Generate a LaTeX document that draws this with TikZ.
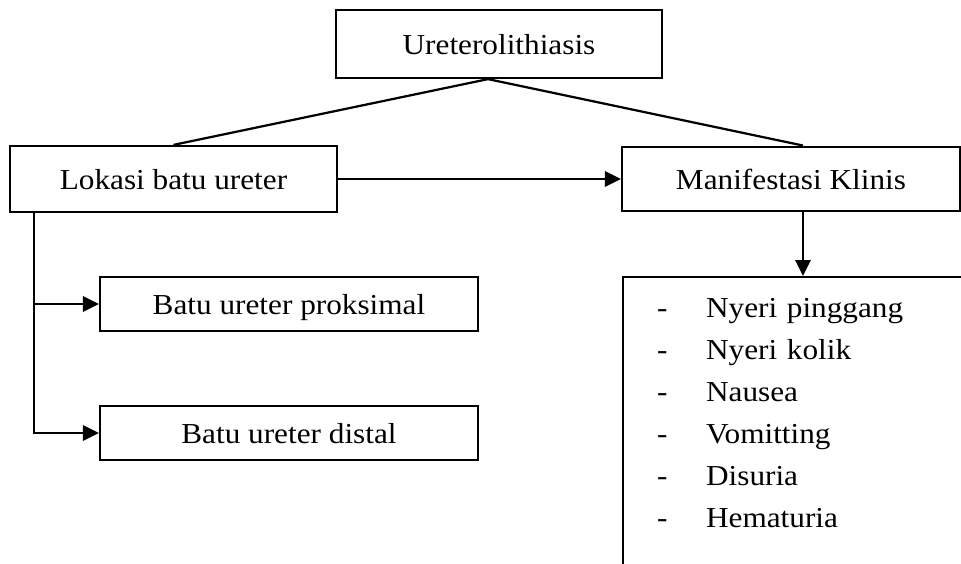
\documentclass[tikz,border=0pt]{standalone}
\usepackage{fontspec}
\setmainfont{Liberation Serif}[FakeStretch=1.08]
\usetikzlibrary{arrows.meta}
\newcommand{\gejala}[1]{\makebox[1.47cm][l]{-}#1}

\begin{document}
\begin{tikzpicture}[x=0.03cm,y=-0.03cm,line width=1.9pt,>={Triangle[length=4.8mm,width=4.6mm]},
  kotak/.style={draw,inner sep=0pt,text depth=0pt,font=\fontsize{24.7}{30}\selectfont}]
\path[use as bounding box,clip] (0,0) rectangle (961,563);
% upper row
\node[kotak,minimum width=9.78cm,minimum height=2.04cm] (uro) at (499,44) {Ureterolithiasis};
\node[kotak,minimum width=9.81cm,minimum height=1.98cm] (lokasi) at (173.5,179) {Lokasi batu ureter};
\node[kotak,minimum width=10.14cm,minimum height=1.94cm] (klinis) at (791,179) {Manifestasi Klinis};
% location of the stone
\node[kotak,minimum width=11.34cm,minimum height=1.62cm] (proksimal) at (289,304) {Batu ureter proksimal};
\node[kotak,minimum width=11.34cm,minimum height=1.62cm] (distal) at (289,433) {Batu ureter distal};
% list of symptoms, box runs off the page
\node[draw,anchor=north west,inner xsep=1.02cm,inner ysep=0.63cm,text width=10cm,align=left,
  font=\fontsize{24.7}{35.86}\selectfont] (gejala) at (622,276)
  {\gejala{Nyeri pinggang}\\ \gejala{Nyeri kolik}\\ \gejala{Nausea}\\ \gejala{Vomitting}\\
   \gejala{Disuria}\\ \gejala{Hematuria}\\[0.5cm] \mbox{}};
\coordinate (puncak) at ([xshift=-0.33cm]uro.south);
\coordinate (cabang) at ([xshift=0.75cm]lokasi.south west);
\coordinate (turun) at ([xshift=0.36cm]klinis.south);
\draw (puncak) -- (lokasi.north);
\draw (puncak) -- ([xshift=0.36cm]klinis.north);
\draw[->] (lokasi.east) -- (klinis.west);
\draw[->] (cabang) |- (distal.west);
\draw[->] (cabang |- proksimal.west) -- (proksimal.west);
\draw[->] (turun) -- (turun |- gejala.north);
\end{tikzpicture}
\end{document}
